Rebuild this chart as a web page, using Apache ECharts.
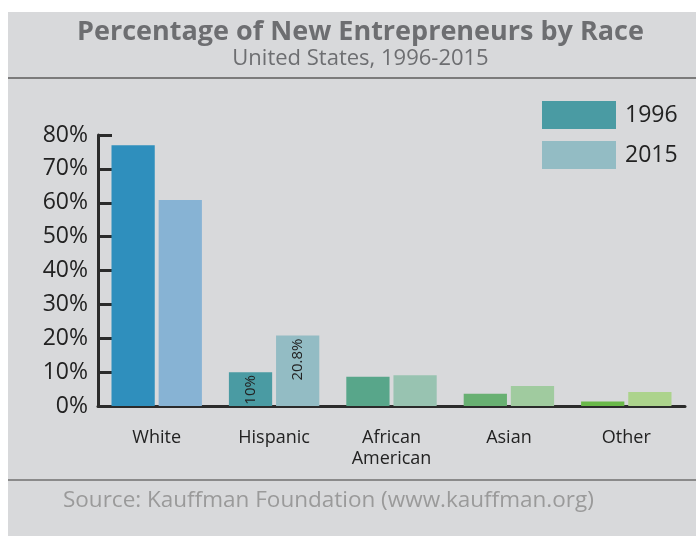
<!DOCTYPE html>
<html>
<head>
<meta charset="utf-8">
<script src="https://cdn.jsdelivr.net/npm/echarts@6/dist/echarts.min.js"></script>
<style>
html,body{margin:0;padding:0;background:#fff;}
#chart{width:696px;height:536px;}
</style>
</head>
<body>
<div id="chart"></div>
<script>
const categories = ['White', 'Hispanic', 'African\nAmerican', 'Asian', 'Other'];
const values1996 = [77, 10, 8.6, 3.6, 1.3];
const values2015 = [60.8, 20.8, 9.1, 5.9, 4.1];
const labels1996 = ['', '10%', '', '', ''];
const labels2015 = ['', '20.8%', '', '', ''];
const seriesNames = ['1996', '2015'];
const colors1996 = ['#2f8fbd', '#4a9ba3', '#58a68a', '#68b072', '#6ab94a'];
const colors2015 = ['#87b3d4', '#93bcc4', '#98c3b1', '#a0cb9f', '#acd38c'];
const legendColors = ['#4a9ba3', '#93bcc4'];
const titleText = 'Percentage of New Entrepreneurs by Race';
const subtitleText = 'United States, 1996-2015';
const sourceText = 'Source: Kauffman Foundation (www.kauffman.org)';

const FONT = '"Open Sans", Lato, sans-serif';

function buildData(values, colors, labels) {
  return values.map((v, i) => ({
    value: v,
    itemStyle: { color: colors[i] },
    label: {
      show: labels[i] !== '',
      formatter: labels[i],
      position: 'insideTop',
      rotate: 90,
      align: 'right',
      verticalAlign: 'middle',
      distance: 3,
      color: '#222',
      fontSize: 15,
      fontFamily: FONT
    }
  }));
}

const chart = echarts.init(document.getElementById('chart'), null, { renderer: 'canvas' });
chart.setOption({
  backgroundColor: '#ffffff',
  animation: false,
  graphic: [
    { type: 'rect', z: -10, shape: { x: 8, y: 12, width: 688, height: 524 }, style: { fill: '#d8d9db' } },
    { type: 'line', shape: { x1: 8, y1: 78, x2: 696, y2: 78 }, style: { stroke: '#7b7b7b', lineWidth: 2 } },
    { type: 'line', shape: { x1: 8, y1: 480, x2: 696, y2: 480 }, style: { stroke: '#8a8a8a', lineWidth: 2 } },
    { type: 'text', left: 63, top: 489, style: { text: sourceText, fill: '#9a9a9a', font: '22.5px ' + FONT } }
  ],
  title: {
    text: titleText,
    subtext: subtitleText,
    left: 355.5,
    top: 14,
    textAlign: 'center',
    itemGap: 2,
    textStyle: { color: '#6d6e71', fontSize: 27, fontWeight: 'bold', fontFamily: FONT },
    subtextStyle: { color: '#6d6e71', fontSize: 22, fontFamily: FONT }
  },
  legend: {
    data: seriesNames,
    orient: 'vertical',
    left: 542,
    top: 101,
    padding: 0,
    itemWidth: 74,
    itemHeight: 28,
    itemGap: 12,
    icon: 'rect',
    textStyle: { color: '#222', fontSize: 23, fontFamily: FONT, padding: [0, 0, 0, 4] },
    selectedMode: false
  },
  grid: { left: 98, right: 11, top: 135, bottom: 130, containLabel: false },
  xAxis: {
    type: 'category',
    data: categories,
    axisLine: { show: true, lineStyle: { color: '#2b2b2b', width: 3 } },
    axisTick: { show: false },
    axisLabel: { color: '#222', fontSize: 18, fontFamily: FONT, margin: 21, lineHeight: 21 }
  },
  yAxis: {
    type: 'value',
    min: 0,
    max: 80,
    interval: 10,
    splitLine: { show: false },
    axisLine: { show: true, lineStyle: { color: '#2b2b2b', width: 3 } },
    axisTick: { show: true, inside: true, length: 14, lineStyle: { color: '#2b2b2b', width: 3 } },
    axisLabel: { color: '#222', fontSize: 23, fontFamily: FONT, margin: 10, formatter: '{value}%' }
  },
  series: [
    {
      name: seriesNames[0],
      type: 'bar',
      color: legendColors[0],
      barGap: '9%',
      barCategoryGap: '23%',
      data: buildData(values1996, colors1996, labels1996)
    },
    {
      name: seriesNames[1],
      type: 'bar',
      color: legendColors[1],
      barGap: '9%',
      barCategoryGap: '23%',
      data: buildData(values2015, colors2015, labels2015)
    }
  ]
});
</script>
</body>
</html>
